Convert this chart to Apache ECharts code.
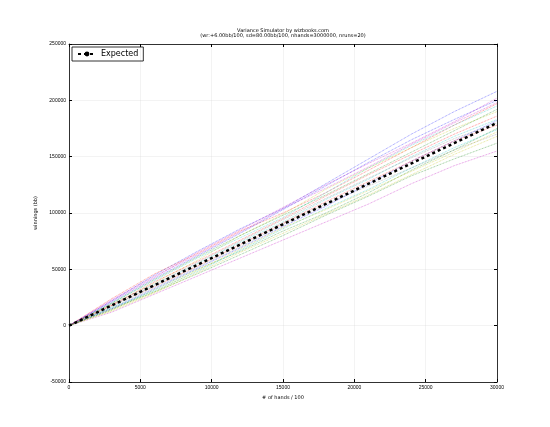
<!DOCTYPE html>
<html><head><meta charset="utf-8">
<script src="https://cdn.jsdelivr.net/npm/echarts@6/dist/echarts.min.js"></script>
<style>html,body{margin:0;background:#fff}#main{width:550px;height:427px}</style>
</head><body><div id="main"></div>
<script>
// hands/100 sample points
const hands = [0, 3000, 6000, 9000, 12000, 15000, 18000, 21000, 24000, 27000, 30000]
const expected = [0, 18000, 36000, 54000, 72000, 90000, 108000, 126000, 144000, 162000, 180000]
const runs = [
  [0, 22000, 45000, 66000, 86000, 104000, 126000, 148000, 170000, 190000, 208000],
  [0, 15000, 30000, 46000, 63000, 80000, 98000, 115000, 133000, 148000, 162000],
  [0, 24000, 46000, 64000, 84000, 100000, 118000, 138000, 158000, 178000, 197000],
  [0, 20000, 40000, 60000, 78000, 96000, 118000, 140000, 160000, 178000, 195000],
  [0, 12000, 28000, 44000, 60000, 76000, 92000, 108000, 126000, 142000, 155000],
  [0, 19000, 38000, 58000, 80000, 99000, 121000, 140000, 158000, 175000, 190000],
  [0, 16000, 34000, 52000, 70000, 90000, 108000, 124000, 140000, 156000, 170000],
  [0, 21000, 42000, 62000, 82000, 103000, 124000, 145000, 165000, 183000, 200000],
  [0, 14000, 32000, 50000, 66000, 84000, 100000, 118000, 138000, 156000, 175000],
  [0, 18000, 39000, 57000, 76000, 95000, 115000, 134000, 152000, 170000, 186000],
  [0, 17000, 36000, 55000, 74000, 92000, 112000, 130000, 150000, 168000, 183000],
  [0, 23000, 44000, 63000, 83000, 104000, 122000, 141000, 161000, 180000, 198000],
  [0, 13000, 29000, 47000, 65000, 82000, 99000, 116000, 134000, 152000, 168000],
  [0, 19000, 37000, 56000, 75000, 94000, 113000, 131000, 149000, 166000, 180000],
  [0, 15000, 33000, 51000, 69000, 88000, 106000, 126000, 146000, 164000, 182000],
  [0, 20000, 41000, 61000, 80000, 98000, 116000, 135000, 154000, 173000, 192000],
  [0, 18000, 35000, 53000, 72000, 91000, 110000, 128000, 146000, 164000, 178000],
  [0, 16000, 31000, 48000, 67000, 86000, 104000, 121000, 140000, 158000, 174000],
  [0, 22000, 43000, 65000, 85000, 105000, 125000, 144000, 162000, 181000, 202000],
  [0, 14000, 30000, 49000, 68000, 87000, 103000, 120000, 137000, 154000, 172000]
]
const colors = ['#0000ff', '#008000', '#ff0000', '#00bfbf', '#bf00bf', '#bfbf00', '#7f7f7f']

const chart = echarts.init(document.getElementById('main'))
const series = runs.map((r, i) => ({
  name: 'run' + i, type: 'line', data: hands.map((h, j) => [h, r[j]]),
  symbol: 'none', silent: true,
  lineStyle: {color: colors[i % colors.length], width: 0.8, type: 'dotted', opacity: 0.55}
}))
series.push({
  name: 'Expected', type: 'line', data: hands.map((h, j) => [h, expected[j]]),
  symbol: 'none', z: 5, itemStyle: {color: '#000'},
  lineStyle: {color: '#000', width: 2.5, type: [3, 3]}
})
const tickFmt = v => String(v)
const frame = {lineStyle: {color: '#000', width: 0.8}}
chart.setOption({
  animation: false,
  title: {
    text: 'Variance Simulator by wizbooks.com',
    subtext: '(wr:+6.00bb/100, sd=80.00bb/100, nhands=3000000, nruns=20)',
    left: 283, top: 28, textAlign: 'center', itemGap: 0, padding: 0,
    textStyle: {fontSize: 5, fontWeight: 'normal', color: '#000', fontFamily: 'DejaVu Sans'},
    subtextStyle: {fontSize: 5, color: '#000', fontFamily: 'DejaVu Sans'}
  },
  legend: {
    data: ['Expected'], left: 72, top: 47, orient: 'vertical',
    borderColor: '#000', borderWidth: 0.8, padding: [3, 5], borderRadius: 0,
    itemWidth: 18, itemHeight: 6, textStyle: {fontSize: 8, color: '#000', fontFamily: 'DejaVu Sans'}
  },
  grid: {left: 69, right: 53, top: 44, bottom: 45},
  xAxis: [{
    type: 'value', min: 0, max: 30000, interval: 5000,
    name: '# of hands / 100', nameLocation: 'middle', nameGap: 11,
    nameTextStyle: {fontSize: 5, fontFamily: 'DejaVu Sans'},
    axisLine: {show: true, onZero: false, ...frame},
    axisTick: {inside: true, length: 3}, axisLabel: {fontSize: 5, color: '#000', margin: 3, formatter: tickFmt},
    splitLine: {lineStyle: {color: '#ccc', type: 'dotted', width: 0.5}}
  }, {
    type: 'value', position: 'top', min: 0, max: 30000, interval: 5000,
    axisLine: {show: true, onZero: false, ...frame}, axisTick: {inside: true, length: 3},
    axisLabel: {show: false}, splitLine: {show: false}
  }],
  yAxis: [{
    type: 'value', min: -50000, max: 250000, interval: 50000,
    name: 'winnings (bb)', nameLocation: 'middle', nameGap: 26,
    nameTextStyle: {fontSize: 5, fontFamily: 'DejaVu Sans'},
    axisLine: {show: true, onZero: false, ...frame},
    axisTick: {inside: true, length: 3}, axisLabel: {fontSize: 5, color: '#000', margin: 3, formatter: tickFmt},
    splitLine: {lineStyle: {color: '#ccc', type: 'dotted', width: 0.5}}
  }, {
    type: 'value', position: 'right', min: -50000, max: 250000, interval: 50000,
    axisLine: {show: true, onZero: false, ...frame}, axisTick: {inside: true, length: 3},
    axisLabel: {show: false}, splitLine: {show: false}
  }],
  series: series
})
</script></body></html>
